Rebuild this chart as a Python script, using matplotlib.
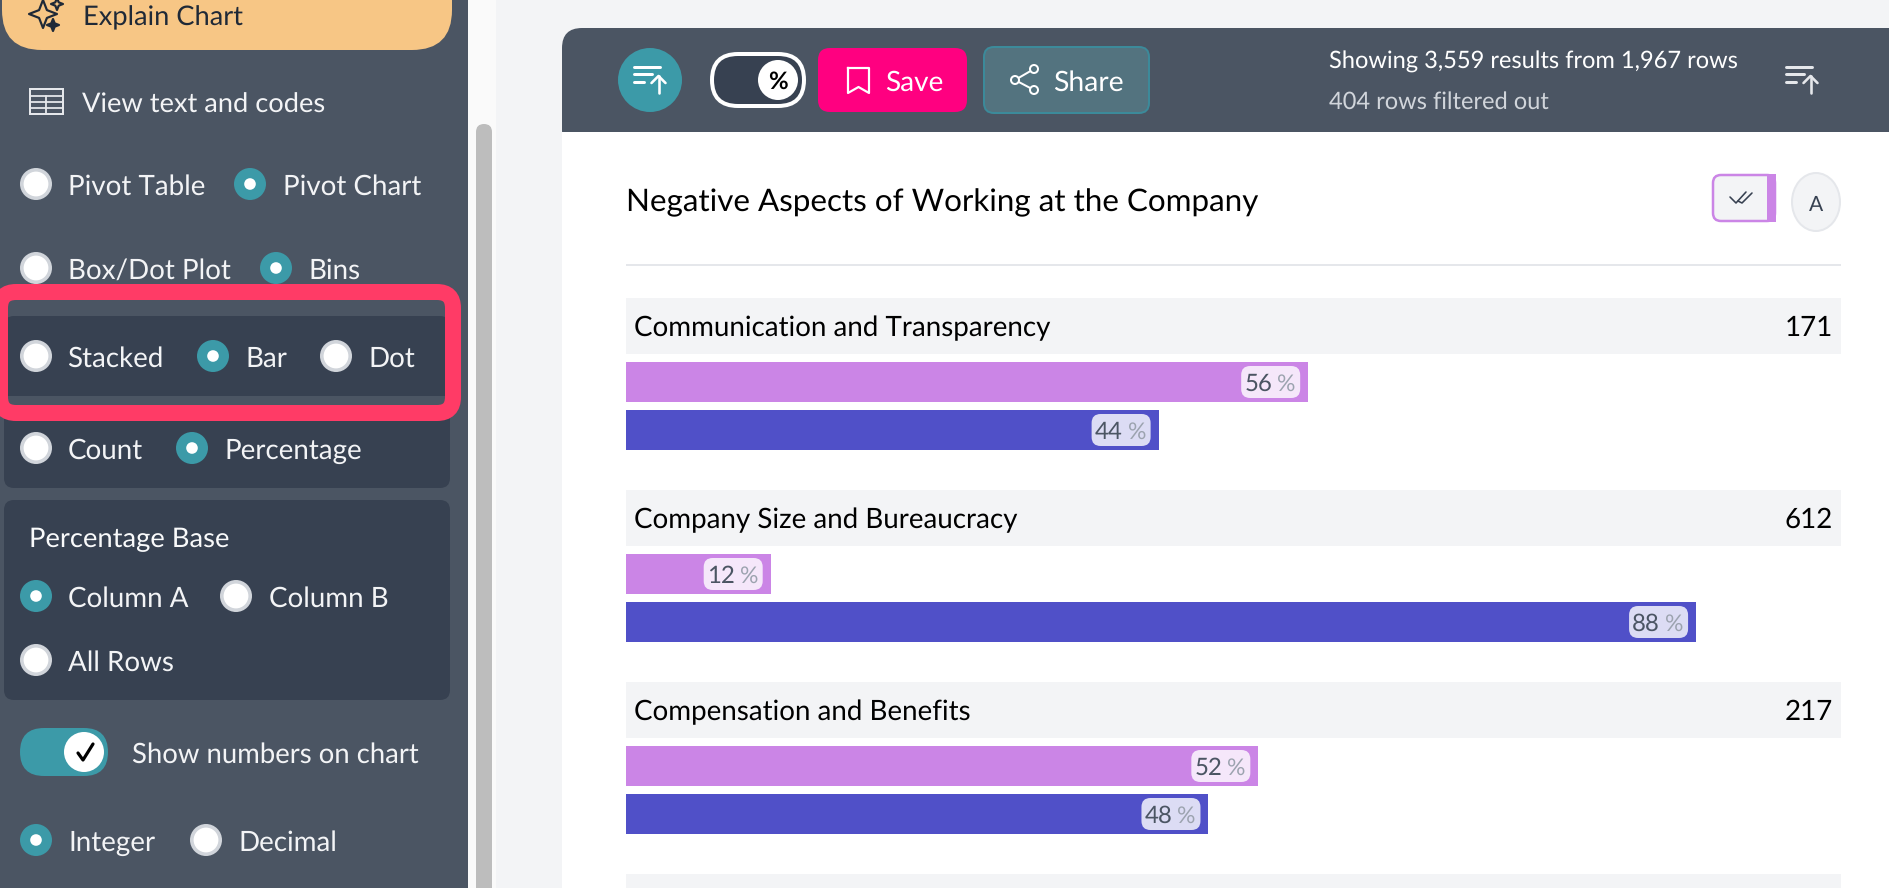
import matplotlib
matplotlib.use("Agg")
import matplotlib.pyplot as plt
from matplotlib.patches import Circle, Ellipse, FancyBboxPatch, Polygon, Rectangle

plt.rcParams["font.family"] = ["Lato", "Open Sans", "DejaVu Sans"]
plt.rcParams["text.hinting"] = "no_hinting"
plt.rcParams["text.hinting_factor"] = 8

# chart values
categories = ["Communication and Transparency", "Company Size and Bureaucracy", "Compensation and Benefits"]
row_totals = [171, 612, 217]
pct_first = [56.1, 11.9, 52.0]
pct_second = [43.8, 88.0, 47.9]

title = "Negative Aspects of Working at the Company"
status_main = "Showing 3,559 results from 1,967 rows"
status_sub = "404 rows filtered out"

# sidebar radios: label, radio x, text x, y, selected
radios = [
    ("Pivot Table", 36, 68, 184, False),
    ("Pivot Chart", 250, 283, 184, True),
    ("Box/Dot Plot", 36, 68, 268, False),
    ("Bins", 276, 308, 268, True),
    ("Stacked", 36, 67, 356, False),
    ("Bar", 213, 245, 356, True),
    ("Dot", 336, 368, 356, False),
    ("Count", 36, 68, 448, False),
    ("Percentage", 192, 224, 448, True),
    ("Column A", 36, 68, 596, True),
    ("Column B", 236, 269, 596, False),
    ("All Rows", 36, 68, 660, False),
    ("Integer", 36, 68, 840, True),
    ("Decimal", 206, 238, 840, False),
]

SIDE = "#4b5563"
DARK = "#374151"
TEAL = "#3c9aa8"
PURPLE = "#cb85e6"
BLUE = "#5050c8"
PT = 0.72

fig = plt.figure(figsize=(18.9, 8.88), dpi=100, facecolor="#f3f4f6")


def px_axes(z):
    a = fig.add_axes([0, 0, 1, 1], zorder=z)
    a.set_xlim(0, 1890)
    a.set_ylim(888, 0)
    a.axis("off")
    return a


bg = px_axes(0)
fg = px_axes(2)


def box(x0, y0, x1, y1, r, fc, ec="none", lw=0, a=bg, z=1):
    a.add_patch(FancyBboxPatch((x0, y0), x1 - x0, y1 - y0, boxstyle=f"round,pad=0,rounding_size={r}",
                               fc=fc, ec=ec, lw=lw * PT, zorder=z))


def label(x, yc, s, size=27.2, color="#f3f4f6", ha="left", a=bg, weight="normal"):
    a.text(x, yc + 0.36 * size, s, fontsize=size * PT, color=color, ha=ha, va="baseline",
           fontweight=weight, zorder=5)


def stroke(xs, ys, color="white", lw=2.4, a=bg):
    a.plot(xs, ys, color=color, lw=lw * PT, solid_capstyle="round", solid_joinstyle="round", zorder=6)


def star(cx, cy, r, fc, ec="#1f2937"):
    k = 0.28 * r
    pts = [(cx, cy - r), (cx + k, cy - k), (cx + r, cy), (cx + k, cy + k),
           (cx, cy + r), (cx - k, cy + k), (cx - r, cy), (cx - k, cy - k)]
    bg.add_patch(Polygon(pts, closed=True, fc=fc, ec=ec, lw=2.2 * PT, joinstyle="round", zorder=6))


def sort_icon(x, y, color):
    stroke([x, x + 26], [y + 1, y + 1], color, 3)
    stroke([x, x + 18], [y + 8, y + 8], color, 3)
    stroke([x, x + 10], [y + 16, y + 16], color, 3)
    stroke([x + 24.5, x + 24.5], [y + 10, y + 27], color, 2.6)
    stroke([x + 17.5, x + 24.5, x + 31.5], [y + 17, y + 10, y + 17], color, 2.6)


# sidebar
bg.add_patch(Rectangle((0, 0), 468, 888, fc=SIDE, ec="none", zorder=0.5))
bg.add_patch(Rectangle((468, 0), 28, 888, fc="#fafafa", ec="none", zorder=0.5))
box(476, 124, 492, 920, 8, "#bdbdbd")
box(2, -60, 452, 50, 40, "#f7c685")
star(43, 14, 14, "#f7c685")
star(57, 4, 6, "none")
star(53, 25, 6, "#1f2937")
label(83, 16, "Explain Chart", color="#1f2937")

bg.add_patch(Rectangle((29.5, 89.5), 33, 25, fc="none", ec="#e5e7eb", lw=2 * PT, zorder=6))
for yy in [96, 102, 108]:
    stroke([30, 62], [yy, yy], "#e5e7eb", 1.8)
stroke([46, 46], [96, 114], "#e5e7eb", 1.8)
label(82, 103, "View text and codes")

box(4, 316, 450, 488, 10, DARK)
box(4, 500, 450, 700, 10, DARK)
bg.add_patch(Rectangle((8, 396), 437, 9, fc=SIDE, ec="none", zorder=2))
box(0, 292, 453, 413, 16, "none", "#ff3b66", 16, z=3)
label(29, 537, "Percentage Base", size=27.4, color="#f9fafb")

for text, rx, tx, ry, selected in radios:
    if selected:
        bg.add_patch(Circle((rx, ry), 16, fc=TEAL, ec="none", zorder=4))
        bg.add_patch(Circle((rx, ry), 5.8, fc="white", ec="none", zorder=5))
    else:
        bg.add_patch(Circle((rx, ry), 14.2, fc="white", ec="#d1d5db", lw=3.6 * PT, zorder=4))
    label(tx, ry + 1, text, size=27.7)

box(20, 728, 108, 776, 24, TEAL)
bg.add_patch(Circle((84, 752), 20, fc="white", ec="none", zorder=5))
stroke([78, 83, 93], [753, 760, 744], "black", 3.2)
label(132, 753, "Show numbers on chart", size=27.5)

# card
box(562, 28, 1990, 1000, 20, "white", z=0.6)
box(562, 28, 1990, 150, 20, SIDE, z=0.7)
bg.add_patch(Rectangle((562, 132), 1328, 40, fc="white", ec="none", zorder=0.8))

bg.add_patch(Circle((650, 80), 32, fc=TEAL, ec="none", zorder=2))
sort_icon(634, 66, "white")
box(712, 54, 804, 106, 26, DARK, "white", 4)
bg.add_patch(Circle((778, 80), 20, fc="white", ec="none", zorder=5))
label(778, 80, "%", size=24, color="black", ha="center", weight="bold")

box(818, 48, 967, 112, 12, "#ff0080")
bg.plot([848, 848, 858.5, 869, 869, 848], [68, 93, 87, 93, 68, 68], color="white", lw=2.2 * PT,
        solid_joinstyle="round", zorder=6)
label(885, 81, "Save", size=28, color="white")

box(984, 47, 1149, 113, 10, "#53737f", "#3c8a9a", 2)
stroke([1034, 1015, 1034], [69, 80, 90], "white", 2)
for nx, ny in [(1034, 69), (1015, 80), (1034, 90)]:
    bg.add_patch(Circle((nx, ny), 4, fc="#53737f", ec="white", lw=2 * PT, zorder=7))
label(1053, 81, "Share", size=28.4, color="white")

label(1329, 60, status_main, size=23.6, color="white")
label(1329, 100, status_sub, size=23.6, color="#d1d5db")
sort_icon(1786, 66, "#e5e7eb")

label(626, 200, title, size=31.4, color="black")
bg.add_patch(Rectangle((626, 264), 1215, 2, fc="#e5e7eb", ec="none", zorder=2))

# check toggle and font button
box(1713, 175, 1775, 221, 8, "#f3f4f6", PURPLE, 2.5)
bg.add_patch(Rectangle((1767, 174), 9, 48, fc=PURPLE, ec="none", zorder=3))
stroke([1730, 1736, 1746], [197, 203, 192], "#374151", 1.6)
stroke([1738, 1742, 1752], [201, 203, 193], "#374151", 1.6)
bg.add_patch(Ellipse((1816, 202), 48, 58, fc="#f3f4f6", ec="#e5e7eb", lw=2 * PT, zorder=2))
label(1816, 203, "A", size=21, color=DARK, ha="center")

# rows
ROW_TOP = 298
ROW_STEP = 192
for i in range(4):
    top = ROW_TOP + i * ROW_STEP
    bg.add_patch(Rectangle((626, top), 1215, 56, fc="#f3f4f6", ec="none", zorder=2))
for i, (cat, n) in enumerate(zip(categories, row_totals)):
    yc = ROW_TOP + i * ROW_STEP + 28
    label(634, yc, cat, size=27.75, color="black")
    label(1833, yc, str(n), size=27.75, color="black", ha="right")

ax = fig.add_axes([626 / 1890, 0, 1216 / 1890, (888 - ROW_TOP) / 888], zorder=1)
ax.patch.set_alpha(0)
ax.set_xlim(0, 100)
ax.set_ylim((888 - ROW_TOP) / ROW_STEP, 0)
ax.axis("off")

y_first = [i + 84 / ROW_STEP for i in range(len(categories))]
y_second = [i + 132 / ROW_STEP for i in range(len(categories))]
ax.barh(y_first, pct_first, height=40 / ROW_STEP, color=PURPLE)
ax.barh(y_second, pct_second, height=40 / ROW_STEP, color=BLUE)


def pill(v, y, fill):
    # pill hangs off the bar end, so look up where the axes put that end
    xd, yd = ax.transData.transform((v, y))
    xp, yp = fg.transData.inverted().transform((xd, yd))
    box(xp - 67, yp - 16, xp - 8, yp + 16, 9, fill, a=fg)
    fg.text(xp - 36, yp + 9, f"{v:.0f}", fontsize=24 * PT, color="#4b5563", ha="right", va="baseline")
    fg.text(xp - 31, yp + 9, "%", fontsize=23 * PT, color="#9ca3af", ha="left", va="baseline")


for v, y in zip(pct_first, y_first):
    pill(v, y, "#f5e7fa")
for v, y in zip(pct_second, y_second):
    pill(v, y, "#dcdcf4")

fig.savefig("out.png", dpi=100, facecolor=fig.get_facecolor())
